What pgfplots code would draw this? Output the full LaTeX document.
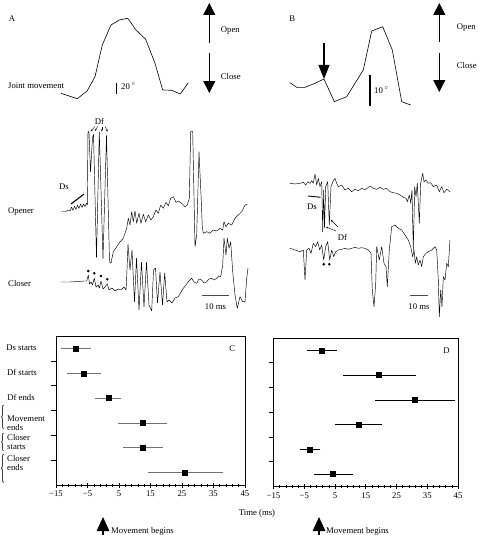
\documentclass[border=0pt]{standalone}
\usepackage{fontspec}
\setmainfont{Liberation Serif}
\usepackage{graphicx}
\usepackage{pgfplots}
\usepackage{pgfplotstable}
\pgfplotsset{compat=1.18}
\usetikzlibrary{arrows.meta}

\pgfplotstableread{
y x em ep
5.5 -8.7 4.0 4.0
4.5 -6.2 4.6 4.6
3.5 1.6 3.5 3.4
2.5 12.4 6.9 7.0
1.5 12.6 5.5 5.5
0.5 26.0 10.9 11.1
}\dataC
\pgfplotstableread{
y x em ep
5.5 0.6 4.0 4.2
4.5 19.2 10.8 11.2
3.5 30.9 12.1 12.3
2.5 12.7 6.8 6.8
1.5 -3.2 2.5 2.6
0.5 4.1 5.1 6.0
}\dataD

\pgfplotsset{
  trace/.style={black, line width=0.45pt, line join=round, no marks},
  joint/.style={black, line width=0.6pt, line join=round, no marks},
  panel/.style={
    scale only axis, xmin=-15, xmax=45, ymin=0, ymax=6,
    xtick={-15,-5,5,15,25,35,45},
    xticklabels={−15,−5,5,15,25,35,45},
    minor x tick num=4,
    ytick={1,2,3,4,5}, yticklabels={},
    tick pos=left,
    xtick align=center, ytick align=outside,
    major tick length=5pt, minor tick length=3pt,
    tick style={black, line width=0.6pt},
    axis line style={line width=0.8pt},
    clip=false,
  },
}
\tikzset{lbl/.style={inner sep=0pt}, sarr/.style={line width=0.4pt,-{Stealth[length=2.2pt,width=1.8pt]}}}

\begin{document}
\begin{tikzpicture}[font=\fontsize{8.7}{10}\selectfont]
\path[use as bounding box] (0pt,0pt) rectangle (478pt,535pt);

% ---------- canvas for traces (pixel coordinates, y downward) ----------
\begin{axis}[at={(0pt,0pt)}, anchor=south west, scale only axis,
  width=478pt, height=535pt, xmin=0, xmax=478, ymin=0, ymax=535,
  y dir=reverse, hide axis, clip=false]

% joint movement A
\addplot[joint] coordinates {(61,93.3)(77.3,98.7)(87.3,90.7)(95,76.7)(102.3,45)(111,25)(119.3,20)(127.7,18.3)(136,30)(145.7,39.3)(155,63.3)(162.7,90)(171.7,90.3)(180.3,94)(188.3,82.7)};
% joint movement B
\addplot[joint] coordinates {(290,82.7)(296.7,87.3)(305,87.3)(315,83.3)(324,79)(334.3,101.7)(346.7,96.7)(355,83.3)(363.3,70)(371.7,31)(382.7,26.7)(392.3,50)(401.7,101.7)(410.7,105)};

% opener A
\addplot[trace] coordinates {(61,211.5)(66,211.5)(68,210)(70,211)(71.5,207)(73,210.5)(74.5,206)(76,209.5)(77.5,205)(79,208.5)(80.5,204)(82,207.5)(83.5,204)(85,206.5)(86.5,203)(87.3,205)(88,131)(89,133)(90.5,172)(92.5,138)(93.5,134)(96.5,258)(99.3,132)(103,259)(106.5,135)(109.5,262)(111,263)(113.3,251.7)(116.7,246.7)(120,242)(123.3,238.3)(126.7,228.3)(128.3,218.3)(130,225)(131.7,211.7)(133.3,221.7)(135,211)(136.7,223.3)(139,213.3)(141,223.3)(143.3,214.3)(145.7,221.7)(148.3,215)(151,220)(153.3,216.7)(156,210)(158.3,213.3)(160.7,205)(163.3,208.3)(166,202.3)(168.3,205.7)(170.7,198.3)(173.3,196.7)(176,202.3)(178.3,201)(181.7,203.3)(185,206.7)(187.3,205)(189.3,198.3)(190.7,131.7)(192.7,131.7)(195,246.7)(196.7,235)(199,151.7)(201,195)(202.3,226.7)(203.3,233.3)(206.7,231.7)(210,233.3)(213.3,230)(216.7,231)(220,228.3)(222.7,230)(224,221.7)(226,226.7)(228.3,223.3)(231.7,225)(235,218.3)(238.3,215)(241.7,211.7)(245,205)(247.3,204.3)};
% closer A
\addplot[trace] coordinates {(61,282)(70,282)(78,281.5)(84,281)(86.7,281)(88.3,275)(89.5,284)(91,282)(92.5,285)(94.3,278)(96,287)(98,285)(99.5,288)(101,281)(103,289)(105,287)(107.3,284)(109,290)(112,288)(115,291)(118,289)(121,290)(124,287)(126,290)(126.5,282)(128,244)(130,270)(132,250)(134.5,302)(136.5,258)(139,310)(141.5,262)(144,307)(146.5,262)(149,305)(151.7,311)(153.5,270)(155.5,268)(157.5,303)(160,272)(162.5,305)(164.7,273)(167,302)(169,300)(172,303)(175,298)(178.3,296.7)(183.3,288.3)(186,285)(188.3,281.7)(191.7,278.3)(194,282)(196.7,283.3)(199,279)(201.7,280)(204,283)(206.7,281.7)(209,279)(211.7,278.3)(214,280)(216.7,278.3)(218.5,276)(220.7,276.7)(222.7,265)(224,238.3)(226,255)(227.3,238.3)(229,248.3)(230.7,241.7)(232.7,271.7)(235,295)(237.3,308.3)(240,296.7)(242.7,301.7)(245,301.7)(246.7,278.3)(248,268)};
% opener B
\addplot[trace] coordinates {(290,183.3)(295,184)(300,183.3)(303.3,182.3)(305.7,185)(307.7,181.7)(310,183.3)(311.7,180.7)(313.3,183.3)(315,174)(316.7,185)(318.3,178.3)(320,186.7)(321.7,181.7)(322.7,232)(323.7,190)(324.5,228)(325.7,186.7)(327.7,181.7)(329.3,225)(331,186.7)(333.3,180.7)(335,178.3)(336.7,183.3)(338.3,186.7)(341.7,185)(345,190)(348.3,188.3)(351.7,191.7)(355,189.3)(358.3,190.7)(361.7,188.3)(365,190)(370,186)(373.3,188.3)(376.7,189.3)(380,187.3)(383.3,189.3)(386.7,188.3)(390,191.7)(393.3,192.7)(396.7,193.3)(400,195)(403.3,197.3)(406,198.3)(407.3,201.7)(409.3,195)(410.7,203.3)(412,190)(413.3,250)(414.7,186.7)(416,196.7)(417.3,183.3)(419.3,223.3)(420.7,183.3)(422.7,173.3)(424,181.7)(426,180)(428.3,183.3)(430.7,182.7)(433.3,186.7)(436.7,185)(439.3,191.7)(441.7,186.7)(444,192.7)(446.7,189.3)(450,191.7)};
% closer B
\addplot[trace] coordinates {(290,248.3)(295,250)(300,251.7)(303.3,250)(305,280)(306.7,250)(309,248.3)(311,253.3)(313.3,243.3)(315.7,246.7)(317.7,241.7)(319.7,250)(321.7,245)(323.7,260)(325.7,246.7)(327.7,241.7)(329.7,260)(331.7,250)(333.7,256.7)(335.7,251.7)(338.3,250)(341.7,249.3)(345,248.3)(348.3,249.3)(351.7,248.3)(355,247.3)(358.3,248.3)(361.7,247.7)(365,248.3)(368.3,250)(371,253.3)(372.3,290)(374,306.7)(375.7,283.3)(376.7,246.7)(379.3,260)(381.7,246.7)(384,263.3)(386,266.7)(387.3,286.7)(389.3,250)(391.7,226.7)(395,225)(398.3,228.3)(401.7,230)(405,235)(408.3,240)(410.7,246.7)(412.7,256.7)(414,250)(415.3,263.3)(416.7,256.7)(418.3,265)(420,260)(421.7,266.7)(423.3,256.7)(426,253.3)(428.3,251.7)(431.7,250)(435,246.7)(436.7,250)(438.3,280)(439.3,316.7)(440.7,290)(442,306.7)(443.3,276.7)(445,280)(446.7,263.3)(448.3,266.7)(450,240)};

% dots
\addplot[only marks, mark=*, mark size=1.1pt, black] coordinates {(88.3,271)(94.3,273.3)(101,276)(107.3,279.3)(323.7,264.3)(329.3,264.3)};

% Ds bars
\draw[line width=1.1pt] (axis cs:71,204) -- (axis cs:84,194);
\draw[line width=0.9pt] (axis cs:308,196) -- (axis cs:320.7,197.3);
% Df arrows A
\draw[sarr] (axis cs:95,126.5) -- (axis cs:90.5,131.5);
\draw[sarr] (axis cs:97.7,126.5) -- (axis cs:95,131);
\draw[sarr] (axis cs:101.7,127) -- (axis cs:101.7,131.5);
\draw[sarr] (axis cs:105,126.5) -- (axis cs:107.7,131.5);
% Df arrows B
\draw[sarr] (axis cs:336,231) -- (axis cs:326,227);
\draw[sarr] (axis cs:338,227) -- (axis cs:331,220);

% scale bars
\draw[line width=0.5pt, black!70] (axis cs:201.7,295) -- (axis cs:229.3,295);
\draw[line width=0.5pt, black!70] (axis cs:410,295.7) -- (axis cs:428.3,295.7);
\draw[line width=1.2pt] (axis cs:116.7,83) -- (axis cs:116.7,94);
\draw[line width=1.2pt] (axis cs:370,75) -- (axis cs:370,106);

% big arrows
\draw[line width=0.8pt, -{Triangle[length=12pt,width=12pt]}] (axis cs:209.3,42.7) -- (axis cs:209.3,3);
\draw[line width=0.8pt, -{Triangle[length=12pt,width=12pt]}] (axis cs:209.3,53.3) -- (axis cs:209.3,93);
\draw[line width=0.8pt, -{Triangle[length=12pt,width=12pt]}] (axis cs:439.3,41.7) -- (axis cs:439.3,3);
\draw[line width=0.8pt, -{Triangle[length=12pt,width=12pt]}] (axis cs:439.3,53.3) -- (axis cs:439.3,92);
\draw[line width=1.1pt, -{Triangle[length=14pt,width=11pt]}] (axis cs:324,43) -- (axis cs:324,79);
\draw[line width=1.4pt, -{Triangle[length=14pt,width=12.5pt]}] (axis cs:103,535) -- (axis cs:103,517);
\draw[line width=1.4pt, -{Triangle[length=14pt,width=12.5pt]}] (axis cs:319,535) -- (axis cs:319,517);

% texts
\node[lbl] at (axis cs:12,19) {A};
\node[lbl] at (axis cs:292.3,19) {B};
\node[lbl, anchor=west] at (axis cs:8,86) {Joint movement};
\node[lbl, anchor=west] at (axis cs:121,86) {20\,$^{\circ}$};
\node[lbl, anchor=west] at (axis cs:374,90) {10\,$^{\circ}$};
\node[lbl, anchor=west] at (axis cs:220.7,31) {Open};
\node[lbl, anchor=west] at (axis cs:220.7,77) {Close};
\node[lbl, anchor=west] at (axis cs:456.7,28) {Open};
\node[lbl, anchor=west] at (axis cs:456.7,65.7) {Close};
\node[lbl] at (axis cs:99.5,121.5) {Df};
\node[lbl] at (axis cs:64,187) {Ds};
\node[lbl] at (axis cs:312,206.7) {Ds};
\node[lbl] at (axis cs:342.5,237.3) {Df};
\node[lbl, anchor=west] at (axis cs:8,212) {Opener};
\node[lbl, anchor=west] at (axis cs:8,284) {Closer};
\node[lbl] at (axis cs:215.5,307) {10 ms};
\node[lbl] at (axis cs:419,306.7) {10 ms};

% row labels
\node[lbl] at (axis cs:21.5,348) {Ds starts};
\node[lbl] at (axis cs:22,372.5) {Df starts};
\node[lbl] at (axis cs:21,397.7) {Df ends};
\node[lbl, anchor=west, align=left, font=\fontsize{8.7}{9}\selectfont] at (axis cs:7,423.5) {Movement\\ends};
\node[lbl, anchor=west, align=left, font=\fontsize{8.7}{9}\selectfont] at (axis cs:7,441.7) {Closer\\starts};
\node[lbl, anchor=west, align=left, font=\fontsize{8.7}{9}\selectfont] at (axis cs:7,463.4) {Closer\\ends};
\node[lbl] at (axis cs:2.6,417.5) {\resizebox{4.5pt}{20pt}{\{}};
\node[lbl] at (axis cs:2.6,442) {\resizebox{4.5pt}{15pt}{\{}};
\node[lbl] at (axis cs:2.6,469) {\resizebox{4.5pt}{24pt}{\{}};

\node[lbl] at (axis cs:257,513) {Time (ms)};
\node[lbl, anchor=west] at (axis cs:111,531.5) {Movement begins};
\node[lbl, anchor=west] at (axis cs:326,531.5) {Movement begins};
\end{axis}

% ---------- panel C ----------
\begin{axis}[panel, at={(56pt,50pt)}, anchor=south west, width=189pt, height=149pt]
\addplot[only marks, mark=square*, mark size=2.5pt, black,
  error bars/.cd, x dir=both, x explicit,
  error bar style={line width=0.7pt, black!55},
  error mark options={black!55, line width=0.7pt, mark size=2.5pt}]
  table[x=x, y=y, x error minus=em, x error plus=ep] {\dataC};
\node at (axis cs:41,5.5) {C};
\end{axis}

% ---------- panel D ----------
\begin{axis}[panel, at={(273.5pt,48.5pt)}, anchor=south west, width=184.5pt, height=148.5pt]
\addplot[only marks, mark=square*, mark size=2.5pt, black,
  error bars/.cd, x dir=both, x explicit,
  error bar style={line width=0.6pt, black},
  error mark options={black, line width=0.6pt, mark size=2.5pt}]
  table[x=x, y=y, x error minus=em, x error plus=ep] {\dataD};
\node at (axis cs:41.3,5.47) {D};
\end{axis}
\end{tikzpicture}
\end{document}
